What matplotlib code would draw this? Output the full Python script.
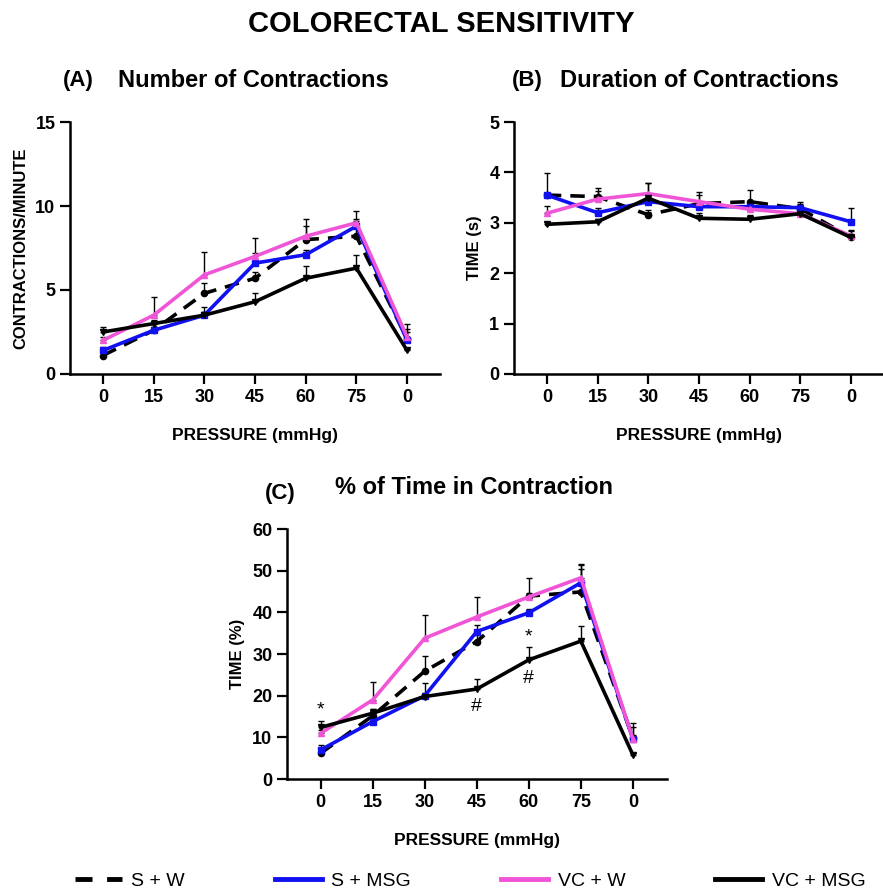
import matplotlib
matplotlib.use('Agg')
import matplotlib.pyplot as plt
from matplotlib.lines import Line2D
import numpy as np

plt.rcParams['font.family'] = ['Liberation Sans', 'DejaVu Sans']

# x categories (pressure steps)
pressao = ['0', '15', '30', '45', '60', '75', '0']

grupos = ['S + W', 'S + MSG', 'VC + W', 'VC + MSG']
cores = ['black', '#1010f0', '#f055d8', 'black']
estilos = ['--', '-', '-', '-']
marcadores = ['o', 's', '^', 'v']

# (A) number of contractions (contractions/minute), mean and upward SEM
contr_sw = [1.1, 2.6, 4.8, 5.7, 8.0, 8.2, 2.1]
contr_sw_err = [0.2, 0.2, 0.6, 0.4, 0.8, 0.9, 0.9]
contr_smsg = [1.4, 2.6, 3.5, 6.6, 7.1, 8.8, 2.0]
contr_smsg_err = [0.2, 0.2, 0.5, 0.6, 0.3, 0.4, 0.7]
contr_vcw = [2.0, 3.5, 5.9, 7.0, 8.2, 9.0, 2.2]
contr_vcw_err = [0.2, 1.1, 1.35, 1.1, 1.0, 0.7, 0.3]
contr_vcmsg = [2.5, 3.0, 3.5, 4.3, 5.7, 6.3, 1.4]
contr_vcmsg_err = [0.3, 0.2, 0.2, 0.5, 0.7, 0.8, 0.1]

# (B) duration of contractions (s)
dur_sw = [3.55, 3.52, 3.16, 3.38, 3.42, 3.28, 2.71]
dur_sw_err = [0.43, 0.18, 0.1, 0.23, 0.24, 0.14, 0.15]
dur_smsg = [3.55, 3.2, 3.42, 3.32, 3.32, 3.30, 3.02]
dur_smsg_err = [0.05, 0.1, 0.1, 0.08, 0.08, 0.08, 0.28]
dur_vcw = [3.19, 3.47, 3.58, 3.42, 3.27, 3.18, 2.74]
dur_vcw_err = [0.15, 0.16, 0.2, 0.13, 0.1, 0.08, 0.1]
dur_vcmsg = [2.97, 3.02, 3.49, 3.09, 3.07, 3.18, 2.71]
dur_vcmsg_err = [0.05, 0.05, 0.29, 0.11, 0.09, 0.05, 0.05]

# (C) % of time in contraction
tempo_sw = [6.2, 15.2, 25.9, 33.0, 43.9, 44.9, 9.8]
tempo_sw_err = [0.8, 1.5, 3.6, 1.5, 4.4, 5.5, 3.6]
tempo_smsg = [7.0, 13.8, 20.0, 35.4, 39.9, 47.1, 9.6]
tempo_smsg_err = [1.2, 0.8, 3.1, 1.6, 1.0, 4.6, 3.0]
tempo_vcw = [11.0, 19.0, 33.8, 38.9, 43.7, 48.3, 9.6]
tempo_vcw_err = [0.8, 4.4, 5.5, 4.8, 1.0, 3.0, 1.0]
tempo_vcmsg = [12.4, 15.8, 19.8, 21.6, 28.6, 33.1, 5.8]
tempo_vcmsg_err = [1.6, 1.0, 0.8, 2.4, 3.0, 3.7, 0.5]

# significance marks in (C): (x index, y, symbol)
marcas_c = [(0, 16.6, '*'), (4, 34.0, '*'), (3, 17.4, '#'), (4, 24.2, '#')]


def painel(ax, series, erros, ymax, ystep, ylabel):
    x = np.arange(len(pressao))
    ordem = [3, 0, 1, 2]
    for i in ordem:
        ax.errorbar(x, series[i], yerr=[np.zeros(len(x)), erros[i]], fmt='none',
                    ecolor='black', elinewidth=1, capsize=2.5, capthick=1, zorder=2)
    for i in ordem:
        ax.plot(x, series[i], linestyle=estilos[i], color=cores[i], lw=2.6,
                marker=marcadores[i], ms=4.5, zorder=3 + i,
                dashes=(4, 2.5) if estilos[i] == '--' else (None, None))
    ax.set_xlim(-0.65, 6.65)
    ax.set_ylim(0, ymax)
    ax.set_yticks(np.arange(0, ymax + 0.01, ystep))
    ax.set_xticks(x)
    ax.set_xticklabels(pressao)
    for s in ['top', 'right']:
        ax.spines[s].set_visible(False)
    for s in ['left', 'bottom']:
        ax.spines[s].set_linewidth(1.8)
    ax.tick_params(width=1.6, length=7, labelsize=13)
    for t in ax.get_xticklabels() + ax.get_yticklabels():
        t.set_fontweight('bold')
    ax.set_xlabel('PRESSURE (mmHg)', fontsize=12.5, fontweight='bold', labelpad=16)
    ax.set_ylabel(ylabel, fontsize=12, fontweight='bold', labelpad=5)


fig = plt.figure(figsize=(8.83, 8.90), dpi=100)

axA = fig.add_axes([0.0793, 0.5798, 0.419, 0.2831])
painel(axA, [contr_sw, contr_smsg, contr_vcw, contr_vcmsg],
       [contr_sw_err, contr_smsg_err, contr_vcw_err, contr_vcmsg_err],
       15, 5, 'CONTRACTIONS/MINUTE')

axB = fig.add_axes([0.582, 0.5798, 0.419, 0.2831])
painel(axB, [dur_sw, dur_smsg, dur_vcw, dur_vcmsg],
       [dur_sw_err, dur_smsg_err, dur_vcw_err, dur_vcmsg_err],
       5, 1, 'TIME (s)')

axC = fig.add_axes([0.325, 0.1247, 0.430, 0.2809])
painel(axC, [tempo_sw, tempo_smsg, tempo_vcw, tempo_vcmsg],
       [tempo_sw_err, tempo_smsg_err, tempo_vcw_err, tempo_vcmsg_err],
       60, 10, 'TIME (%)')
for xi, yi, simbolo in marcas_c:
    axC.text(xi, yi, simbolo, ha='center', va='center', fontsize=14)

fig.text(0.5, 0.973, 'COLORECTAL SENSITIVITY', ha='center', va='center',
         fontsize=21, fontweight='bold')
fig.text(0.071, 0.910, '(A)', fontsize=16, fontweight='bold', va='center')
fig.text(0.134, 0.910, 'Number of Contractions', fontsize=17, fontweight='bold', va='center')
fig.text(0.580, 0.910, '(B)', fontsize=16, fontweight='bold', va='center')
fig.text(0.634, 0.910, 'Duration of Contractions', fontsize=17, fontweight='bold', va='center')
fig.text(0.300, 0.446, '(C)', fontsize=16, fontweight='bold', va='center')
fig.text(0.379, 0.452, '% of Time in Contraction', fontsize=17, fontweight='bold', va='center')

handles = [Line2D([], [], color=cores[i], lw=3.5, linestyle=estilos[i],
                  dashes=(3.5, 3) if estilos[i] == '--' else (None, None))
           for i in range(4)]
fig.legend(handles, grupos, loc='lower left', ncol=4, mode='expand',
           bbox_to_anchor=(0.065, -0.02, 0.935, 0.03), frameon=False,
           fontsize=14, handlelength=2.4, handletextpad=0.5)

fig.savefig('out.png', dpi=100)
